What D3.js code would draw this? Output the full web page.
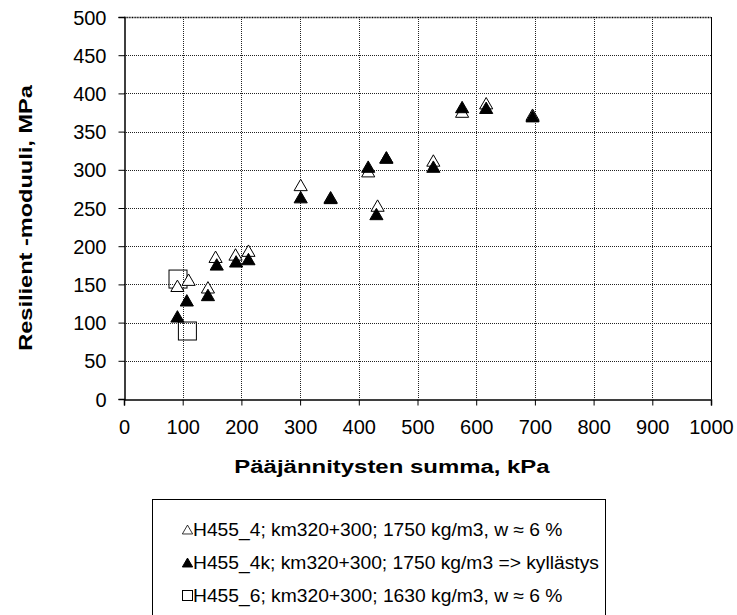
<!DOCTYPE html>
<html><head><meta charset="utf-8">
<script src="https://cdn.jsdelivr.net/npm/d3@7"></script>
<style>body{margin:0;background:#fff;} svg{display:block;font-family:"Liberation Sans",Arial,sans-serif;}</style>
</head><body>
<script>
const xTicks = [0,100,200,300,400,500,600,700,800,900,1000];
const yTicks = [0,50,100,150,200,250,300,350,400,450,500];
const openX = [91,110,143,156,190,212,301,352,416,432,447,527,576,617,696];
const openY = [147,155,145,185,188,193,279,263,297,252,315,311,375,386,371];
const fillX = [91,107,143,158,191,212,301,352,416,430,447,527,576,617,696];
const fillY = [107,128,135,175,179,182,263,262,303,241,315,303,381,380,369];
const sqX = [92,108];
const sqY = [157,89];
const legendLabels = ["H455_4; km320+300; 1750 kg/m3, w \u2248 6 %","H455_4k; km320+300; 1750 kg/m3 => kyllästys","H455_6; km320+300; 1630 kg/m3, w \u2248 6 %"];

const W=737,H=615;
const svg=d3.select("body").append("svg").attr("width",W).attr("height",H);
const x=d3.scaleLinear().domain([0,1000]).range([124,711]);
const y=d3.scaleLinear().domain([0,500]).range([399,17]);

// gridlines
const g=svg.append("g");
g.selectAll(".vg").data(xTicks.slice(1,-1)).enter().append("line")
 .attr("x1",d=>Math.round(x(d))+0.5).attr("x2",d=>Math.round(x(d))+0.5).attr("y1",y(500)).attr("y2",y(0))
 .attr("stroke","#222").attr("stroke-dasharray","1,1");
g.selectAll(".hg").data(yTicks.slice(1,-1)).enter().append("line")
 .attr("y1",d=>Math.round(y(d))+0.5).attr("y2",d=>Math.round(y(d))+0.5).attr("x1",x(0)).attr("x2",x(1000))
 .attr("stroke","#222").attr("stroke-dasharray","1,1");
// frame top & right
svg.append("line").attr("x1",x(0)).attr("x2",x(1000)).attr("y1",Math.round(y(500))+0.5).attr("y2",Math.round(y(500))+0.5)
 .attr("stroke","#000").attr("stroke-width",1.5).attr("stroke-dasharray","1,0.6");
svg.append("line").attr("x1",x(1000)+0.5).attr("x2",x(1000)+0.5).attr("y1",y(500)).attr("y2",y(0)).attr("stroke","#000");

// axes
const xa=svg.append("g").attr("transform",`translate(0,${Math.round(y(0))+0.5})`)
 .call(d3.axisBottom(x).tickValues(xTicks).tickSize(6).tickFormat(d3.format("d")));
const ya=svg.append("g").attr("transform",`translate(${x(0)+0.5},0)`)
 .call(d3.axisLeft(y).tickValues(yTicks).tickSize(6).tickFormat(d3.format("d")));
[xa,ya].forEach(a=>{a.select(".domain").attr("stroke","#000").attr("stroke-width",1.5);
 a.selectAll(".tick line").attr("stroke","#000");
 a.selectAll("text").attr("font-size",20).attr("fill","#000").attr("font-family","Liberation Sans, Arial, sans-serif");});
xa.selectAll("text").attr("y",34).attr("dy",0);
ya.selectAll("text").attr("x",-18).attr("dy","0.35em");

// stretched text helper
function sText(parent,tx,ty,rot,sx,txt,size,weight,anchor){
  const gg=parent.append("g").attr("transform",`translate(${tx},${ty}) rotate(${rot}) scale(${sx},1)`);
  return gg.append("text").attr("text-anchor",anchor).attr("font-size",size)
   .attr("font-weight",weight).attr("fill","#000").text(txt);
}
sText(svg,392,473,0,1.26,"Pääjännitysten summa, kPa",19,"bold","middle");
sText(svg,32,218,-90,1.24,"Resilient -moduuli, MPa",19,"bold","middle");

const tri=d3.symbol().type(d3.symbolTriangle).size(75);
const openD=openX.map((v,i)=>({x:v,y:openY[i]}));
const fillD=fillX.map((v,i)=>({x:v,y:fillY[i]}));
const sqD=sqX.map((v,i)=>({x:v,y:sqY[i]}));

svg.append("g").selectAll("rect").data(sqD).enter().append("rect")
 .attr("x",d=>x(d.x)-9).attr("y",d=>y(d.y)-9).attr("width",18).attr("height",18)
 .attr("fill","none").attr("stroke","#000").attr("stroke-width",1);
svg.append("g").selectAll("path").data(openD).enter().append("path")
 .attr("d",tri).attr("transform",d=>`translate(${x(d.x)},${y(d.y)+1})`)
 .attr("fill","#fff").attr("stroke","#000").attr("stroke-width",1);
svg.append("g").selectAll("path").data(fillD).enter().append("path")
 .attr("d",tri).attr("transform",d=>`translate(${x(d.x)},${y(d.y)+1})`)
 .attr("fill","#000").attr("stroke","#000").attr("stroke-width",1);

// legend
const lg=svg.append("g");
lg.append("rect").attr("x",152.5).attr("y",499.5).attr("width",453).attr("height",130)
 .attr("fill","#fff").attr("stroke","#000");
const lb=[536,569,602];
const smallTri=d3.symbol().type(d3.symbolTriangle).size(46);
lg.append("path").attr("d",smallTri).attr("transform",`translate(187.5,${lb[0]-5})`).attr("fill","#fff").attr("stroke","#000").attr("stroke-width",0.8);
lg.append("path").attr("d",smallTri).attr("transform",`translate(187.5,${lb[1]-5})`).attr("fill","#000").attr("stroke","#000");
lg.append("rect").attr("x",182.5).attr("y",lb[2]-11.5).attr("width",10).attr("height",10).attr("fill","none").attr("stroke","#000");
legendLabels.forEach((t,i)=>sText(lg,193,lb[i],0,1.07,t,18,"normal","start"));
</script>
</body></html>
